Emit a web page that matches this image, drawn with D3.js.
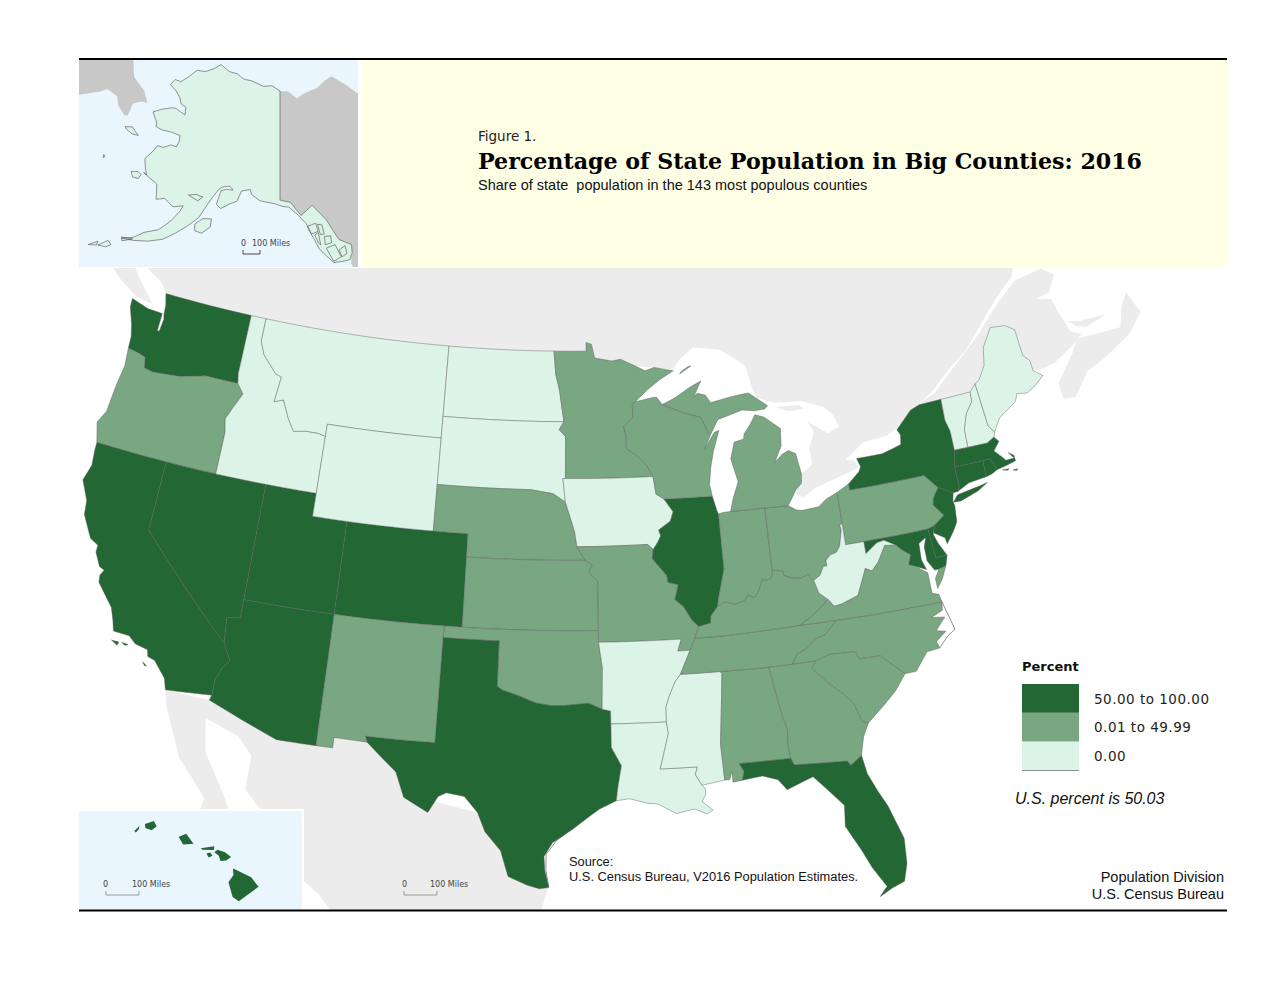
<!DOCTYPE html>
<html>
<head>
<meta charset="utf-8">
<script src="https://cdn.jsdelivr.net/npm/d3@7"></script>
<style>
  html, body { margin: 0; padding: 0; background: #fff; }
  svg { display: block; }
</style>
</head>
<body>
<div id="viz"></div>
<script>
const WIDTH = 1280, HEIGHT = 989;
const COLORS = { high: "#236734", mid: "#78a781", low: "#dcf3e8", land: "#ececec", akLand: "#c8c8c8",
  inset: "#eaf6fe", band: "#ffffe6", line: "#5f5f5f" };

// value classes
const highStates = ["WA","CA","NV","UT","AZ","CO","TX","FL","IL","NY","MA","CT","RI","NJ","DE","MD","HI"];
const midStates = ["OR","NM","NE","KS","OK","MN","WI","MI","MO","IN","OH","PA","VA","NC","SC","GA","AL","TN","KY"];
const lowStates = ["ID","MT","WY","ND","SD","IA","AR","LA","MS","WV","ME","NH","VT","AK"];
const legendLabels = ["50.00 to 100.00", "0.01 to 49.99", "0.00"];

// shared borders, lon/lat
const columbia = [[-116.92,46],[-118.98,46],[-119.3,45.93],[-120.5,45.7],[-121.2,45.65],[-122.2,45.57],[-122.76,45.65],[-122.9,46.1],[-123.4,46.2],[-124.05,46.27]];
const snake = [[-117.03,43.8],[-117.2,44.4],[-116.85,45],[-116.47,45.6],[-116.92,46]];
const idMt = [[-116.05,49],[-116.05,48],[-115.7,47.45],[-114.75,46.75],[-114.35,46.65],[-114.5,45.55],[-113.95,45.7],[-113.45,44.95],[-113,44.45],[-112.3,44.55],[-111.5,44.55],[-111.05,44.47]];
const colorado = [[-114.63,35],[-114.14,34.3],[-114.45,34],[-114.72,33.4],[-114.72,32.72]];
const redRiver = [[-94.48,33.64],[-95.2,33.9],[-96.5,33.8],[-97.2,33.8],[-97.95,33.9],[-98.9,34.2],[-99.7,34.4],[-100,34.56]];
const missouriNe = [[-96.45,42.49],[-96.1,41.7],[-95.9,41.2],[-95.77,40.58]];
const mnDakota = [[-97.23,49],[-97.1,48],[-96.85,47.3],[-96.56,45.94]];
const sdMn = [[-96.56,45.94],[-96.85,45.6],[-96.45,45.3],[-96.45,43.5]];
const mnWi = [[-92.1,46.75],[-92.29,46.66],[-92.29,46.08],[-92.87,45.7],[-92.75,45.3],[-92.75,44.75]];
const missMnWi = [[-92.75,44.75],[-92.1,44.4],[-91.6,44.03],[-91.22,43.5]];
const missIaWi = [[-91.22,43.5],[-91.1,42.75],[-90.64,42.51]];
const missIaIl = [[-90.64,42.51],[-90.15,41.95],[-90.35,41.55],[-91.05,41.2],[-90.95,40.95],[-91.12,40.7],[-91.42,40.38]];
const missMoIl = [[-91.42,40.38],[-91.5,40],[-90.73,39.25],[-90.68,38.95],[-90.12,38.83],[-90.2,38.6],[-90.35,38.2],[-89.9,37.88],[-89.5,37.3],[-89.15,37]];
const missArTn = [[-89.7,36],[-90.3,35]];
const missArMs = [[-90.3,35],[-90.6,34.7],[-90.95,34.1],[-91.15,33.65],[-91.17,33]];
const missLaMs = [[-91.17,33],[-91.1,32.5],[-91.4,31.6],[-91.6,31]];
const ohioWv = [[-80.52,40.64],[-80.67,40.58],[-80.63,40.4],[-80.73,40.08],[-80.87,39.7],[-81.1,39.46],[-81.45,39.4],[-81.75,39.2],[-81.75,38.95],[-81.95,38.95],[-82.2,38.6],[-82.59,38.42]];
const ohioKyOh = [[-82.59,38.42],[-82.85,38.72],[-83.3,38.6],[-83.67,38.63],[-84.2,38.8],[-84.23,38.99],[-84.82,39.1]];
const ohioKyIn = [[-84.82,39.1],[-84.89,38.78],[-85.17,38.69],[-85.43,38.73],[-85.68,38.3],[-85.95,38],[-86.3,38.15],[-86.52,37.93],[-87.1,37.8],[-87.6,37.95],[-88.03,37.8]];
const ohioKyIl = [[-88.03,37.8],[-88.45,37.4],[-88.5,37.1],[-89.15,37]];
const wabash = [[-88.03,37.8],[-87.95,38.1],[-87.5,39.35],[-87.53,41.71]];
const kyVa = [[-83.68,36.6],[-83.1,36.85],[-82.3,37.3],[-81.97,37.54]];
const kyWv = [[-81.97,37.54],[-82.4,37.85],[-82.59,38.42]];
const tnNc = [[-81.68,36.59],[-82.4,36.05],[-82.9,35.95],[-83.5,35.57],[-84.03,35.4],[-84.32,34.99]];
const vaWv = [[-81.97,37.54],[-81.68,37.2],[-81.25,37.25],[-80.3,37.5],[-79.65,38.58],[-79.3,38.42],[-78.87,38.77],[-78.35,39.4],[-77.72,39.32]];
const potomac = [[-76.95,38.3],[-77.25,38.4],[-77.04,38.8],[-77.5,39.1],[-77.72,39.32]];
const ncSc = [[-83.11,35],[-82.3,35.2],[-81.05,35.15],[-80.9,35.1],[-80.8,34.82],[-79.67,34.8],[-78.55,33.86]];
const savannah = [[-83.11,35],[-83.35,34.7],[-82.6,34],[-81.9,33.45],[-81.45,33],[-81.15,32.15],[-80.85,32.05]];
const gaAl = [[-85.6,34.98],[-85.18,32.87],[-85,32.3],[-85.05,31.55],[-85,31]];
const wiUp = [[-90.42,46.57],[-89.1,46.14],[-88.1,45.9],[-87.8,45.35],[-87.6,45.1]];
const delaware = [[-74.7,41.36],[-75.1,40.95],[-75.2,40.68],[-74.72,40.15],[-75.4,39.8]];
const ctRiverVtNh = [[-71.5,45.01],[-71.55,44.6],[-72.05,44.15],[-72.4,43.5],[-72.46,42.73]];
const rev = a => a.slice().reverse();

const stateRings = {
  WA: [[[-124.73,48.38],[-123.6,48.15],[-122.62,48.12],[-122.62,47.35],[-122.5,47.35],[-122.42,47.9],[-122.5,48.1],[-122.55,48.5],[-122.75,49],[-121,49],[-119,49],[-117.03,49],[-117.03,46.42],...columbia,[-124.1,46.8],[-124.3,47.3],[-124.7,48]]],
  OR: [[[-124.05,46.27],...rev(columbia),...rev(snake),[-117.03,42],[-119,42],[-121,42],[-124.21,42],[-124.55,42.84],[-124.2,43.4],[-124.1,44.6],[-123.95,45.5]]],
  CA: [[[-124.21,42],[-120,42],[-120,39],...colorado,[-117.12,32.53],[-117.3,33],[-118,33.65],[-118.4,33.75],[-118.5,34.03],[-119.2,34.15],[-119.6,34.42],[-120.47,34.45],[-120.65,34.9],[-120.9,35.4],[-121.9,36.3],[-121.95,36.6],[-121.8,36.85],[-122.1,36.95],[-122.5,37.5],[-122.5,37.8],[-123,38],[-123.7,38.9],[-123.8,39.5],[-124.35,40.3],[-124.1,41],[-124.2,41.7]],
      [[-119.9,34.07],[-119.55,34.05],[-119.7,33.97]],[[-118.6,33.48],[-118.35,33.35],[-118.45,33.33]],[[-120.45,34.05],[-120.05,34.05],[-120.1,33.9]]],
  NV: [[[-120,42],[-114.04,42],[-114.04,36.2],[-114.75,36.1],[-114.63,35],[-120,39]]],
  AZ: [[[-114.04,37],[-109.05,37],[-109.05,31.33],[-111.07,31.33],[-114.81,32.5],[-114.72,32.72],...rev(colorado),[-114.75,36.1],[-114.04,36.2]]],
  UT: [[[-114.04,42],[-111.05,42],[-111.05,41],[-109.05,41],[-109.05,37],[-114.04,37]]],
  CO: [[[-109.05,41],[-102.05,41],[-102.04,37],[-109.05,37]]],
  ID: [[[-117.03,49],...idMt,[-111.05,42],[-117.03,42],...snake,[-117.03,46.42]]],
  MT: [[...idMt,[-111.05,45],[-104.05,45],[-104.05,49]]],
  WY: [[[-111.05,45],[-104.05,45],[-104.05,41],[-111.05,41]]],
  ND: [[[-104.05,49],...mnDakota,[-104.05,45.94]]],
  SD: [[[-104.05,45.94],...sdMn,[-96.6,43.5],[-96.45,42.49],[-97.2,42.85],[-98.5,43],[-104.05,43]]],
  NE: [[[-104.05,43],[-98.5,43],[-97.2,42.85],...missouriNe,[-95.31,40],[-102.05,40],[-102.05,41],[-104.05,41]]],
  KS: [[[-102.05,40],[-95.31,40],[-94.9,39.8],[-95.1,39.5],[-94.61,39.1],[-94.62,37],[-102.04,37]]],
  OK: [[[-103,37],[-94.62,37],[-94.62,36.5],[-94.43,35.4],...redRiver,[-100,36.5],[-103.04,36.5]]],
  TX: [[[-103.04,36.5],[-100,36.5],...rev(redRiver),[-94.04,33.55],[-94.04,33],[-94.04,31.99],[-93.55,31.2],[-93.75,30.3],[-93.85,29.7],[-94.7,29.35],[-95.1,29.1],[-96,28.5],[-97,27.9],[-97.4,27.3],[-97.35,26.7],[-97.15,25.96],[-97.6,25.9],[-98.2,26.05],[-99.1,26.4],[-99.5,27.5],[-100.3,28.3],[-100.7,29.1],[-101.4,29.77],[-102.3,29.88],[-102.7,29.7],[-103.15,28.98],[-104.4,29.55],[-104.9,30.6],[-106.5,31.75],[-106.62,32],[-103.06,32]]],
  NM: [[[-109.05,37],[-103,37],[-103.04,36.5],[-103.06,32],[-106.62,32],[-106.5,31.75],[-108.2,31.78],[-108.2,31.33],[-109.05,31.33]]],
  MN: [[[-97.23,49],[-95.15,49],[-95.15,49.38],[-94.8,49.3],[-94.6,48.7],[-93.5,48.55],[-92.95,48.62],[-92,48.3],[-91.4,48.07],[-90.8,48.2],[-89.6,48],[-90.5,47.65],[-91.3,47.25],...mnWi,...missMnWi,...rev(sdMn),...rev(mnDakota)]],
  IA: [[[-96.45,43.5],...missIaWi,...missIaIl,[-91.73,40.61],[-95.77,40.58],...rev(missouriNe),[-96.6,43.5]]],
  MO: [[[-95.77,40.58],[-91.73,40.61],...missMoIl,[-89.4,36.5],[-89.7,36],[-90.37,36],[-90.15,36.5],[-94.62,36.5],[-94.62,37],[-94.61,39.1],[-95.1,39.5],[-94.9,39.8],[-95.31,40]]],
  AR: [[[-94.62,36.5],[-90.15,36.5],[-90.37,36],...missArTn,...missArMs,[-94.04,33],[-94.04,33.55],[-94.48,33.64],[-94.43,35.4]]],
  LA: [[[-94.04,33],...missLaMs,[-89.73,31],[-89.85,30.67],[-89.55,30.2],[-89.4,30.05],[-89.4,29.8],[-89.6,29.5],[-89.1,29.1],[-89.4,28.95],[-90,29.2],[-90.9,29.05],[-91.8,29.5],[-92.3,29.55],[-93.2,29.77],[-93.85,29.7],[-93.75,30.3],[-93.55,31.2],[-94.04,31.99]]],
  MS: [[...missArMs,...missLaMs.slice(1),[-89.73,31],[-89.85,30.67],[-89.55,30.2],[-88.4,30.35],[-88.47,31.9],[-88.1,34.9],[-88.2,35]]],
  AL: [[[-88.2,35],...gaAl,[-87.6,31],[-87.4,30.65],[-87.52,30.28],[-88,30.23],[-88,30.7],[-88.15,30.35],[-88.4,30.35],[-88.47,31.9],[-88.1,34.9]]],
  TN: [[[-89.7,36],[-89.4,36.5],[-88.07,36.5],[-83.68,36.6],...tnNc,[-85.6,34.98],[-88.2,35],[-90.3,35]]],
  KY: [[[-89.4,36.5],[-88.07,36.5],...kyVa,...kyWv,...ohioKyOh,...ohioKyIn,...ohioKyIl]],
  IL: [[[-87.8,42.49],[-90.64,42.51],...missIaIl.slice(1),...missMoIl.slice(1),...rev(ohioKyIl),...wabash,[-87.6,41.85]]],
  IN: [[[-87.53,41.71],[-87.2,41.76],[-86.82,41.76],[-84.81,41.76],...ohioKyIn,...wabash.slice(1,3)]],
  OH: [[[-84.81,41.76],[-83.45,41.73],[-83,41.5],[-82.7,41.45],[-81.7,41.5],[-81.2,41.78],[-80.52,41.98],...ohioWv,...ohioKyOh]],
  MI: [[[-86.82,41.76],[-84.81,41.76],[-83.45,41.73],[-83.15,42.05],[-82.9,42.35],[-82.5,42.6],[-82.42,43],[-82.6,43.9],[-83,44.07],[-83.4,43.95],[-83.9,43.65],[-83.4,44.3],[-83.3,45.05],[-84.2,45.63],[-84.75,45.78],[-85.1,45.4],[-85.55,45],[-85.6,44.8],[-86.2,44.7],[-86.5,44],[-86.2,43],[-86.6,42.3]],
      [...wiUp,[-87.05,45.75],[-86.5,45.85],[-85.5,46.05],[-84.75,45.95],[-84.1,45.98],[-83.9,46.1],[-84.5,46.46],[-85,46.75],[-86.1,46.67],[-87.4,46.5],[-87.7,46.85],[-88.2,46.95],[-88.45,46.78],[-87.9,47.47],[-88.6,47.25],[-89.6,46.83]],
      [[-89.2,47.85],[-88.45,48.15],[-88.6,48.15],[-89.1,47.95]]],
  WI: [[[-92.1,46.75],[-91,46.9],[-90.75,46.9],...wiUp,[-88,44.55],[-87.35,45.2],[-87.05,45.28],[-87.5,44.4],[-87.75,43.7],[-87.9,43],[-87.8,42.49],[-90.64,42.51],...rev(missIaWi).slice(1),...rev(missMnWi).slice(1),...rev(mnWi).slice(1)]],
  PA: [[[-80.52,41.98],[-79.76,42.27],[-79.76,42],[-75.35,42],...delaware,[-75.79,39.72],[-80.52,39.72],[-80.52,40.64]]],
  NY: [[[-79.76,42.27],[-79.05,42.7],[-78.9,42.9],[-79.05,43.27],[-77.5,43.27],[-76.3,43.5],[-76.2,43.9],[-76.35,44.15],[-75.3,44.85],[-74.7,45],[-73.34,45.01],[-73.4,44.1],[-73.25,43.6],[-73.27,42.75],[-73.5,42.05],[-73.49,41.2],[-73.65,41],[-73.92,41],[-74.7,41.36],[-75.35,42],[-79.76,42]],
      [[-74.03,40.6],[-73.6,40.58],[-72.5,40.82],[-71.87,41.07],[-72.4,41],[-72.65,40.98],[-73.7,40.87]]],
  VT: [[[-73.34,45.01],...ctRiverVtNh,[-73.27,42.75],[-73.25,43.6],[-73.4,44.1]]],
  NH: [[[-71.5,45.01],[-71.08,45.3],[-70.98,43.4],[-70.7,43.07],[-70.82,42.87],[-71.3,42.7],...rev(ctRiverVtNh)]],
  ME: [[[-71.08,45.3],[-70.8,45.4],[-70.25,45.95],[-70,46.7],[-69.23,47.46],[-68.3,47.36],[-67.79,47.07],[-67.78,45.9],[-67.45,45.6],[-67.45,45.15],[-66.97,44.82],[-67.6,44.5],[-68.2,44.3],[-68.8,44.4],[-69,44.1],[-69.6,43.85],[-70.2,43.6],[-70.7,43.07],[-70.98,43.4]]],
  MA: [[[-73.5,42.05],[-73.27,42.75],[-72.46,42.73],[-71.3,42.7],[-70.82,42.87],[-70.6,42.65],[-71.03,42.3],[-70.65,41.95],[-70.5,41.78],[-70,41.78],[-70.25,42.07],[-69.97,41.9],[-69.97,41.65],[-70.65,41.55],[-71.12,41.5],[-71.38,42.02],[-71.8,42.02]],
      [[-70.85,41.42],[-70.45,41.4],[-70.55,41.35]],[[-70.25,41.3],[-69.97,41.3],[-70.05,41.24]]],
  CT: [[[-73.5,42.05],[-71.8,42.02],[-71.85,41.32],[-72.9,41.25],[-73.65,41],[-73.49,41.2]]],
  RI: [[[-71.8,42.02],[-71.38,42.02],[-71.12,41.5],[-71.5,41.37],[-71.85,41.32]]],
  NJ: [[[-74.7,41.36],[-73.92,41],[-74.05,40.65],[-74,40.45],[-74.1,39.75],[-74.4,39.4],[-74.9,38.93],[-74.95,39.2],[-75.5,39.5],...rev(delaware).slice(0,4)]],
  DE: [[[-75.79,39.72],[-75.4,39.8],[-75.55,39.45],[-75.4,39.05],[-75.05,38.45],[-75.7,38.46]]],
  MD: [[[-79.48,39.72],[-75.79,39.72],[-75.7,38.46],[-75.05,38.45],[-75.24,38.03],[-75.65,37.95],[-75.9,37.95],[-76.2,38.4],[-76.2,39],[-76,39.4],[-76.45,39.2],[-76.5,38.5],[-76.33,38.05],...potomac,[-78.35,39.62],[-78.75,39.58],[-79.48,39.2]]],
  WV: [[[-80.52,39.72],[-79.48,39.72],[-79.48,39.2],[-78.75,39.58],[-78.35,39.62],[-77.72,39.32],...rev(vaWv).slice(1),...kyWv.slice(1),...rev(ohioWv).slice(1)]],
  VA: [[[-83.68,36.6],[-81.68,36.59],[-75.87,36.55],[-75.95,36.9],[-76.3,37],[-76.3,37.5],[-76.3,37.9],...potomac,...rev(vaWv).slice(1),...rev(kyVa).slice(1)],
      [[-75.65,37.95],[-75.24,38.03],[-75.6,37.5],[-75.95,37.15],[-75.95,37.6]]],
  NC: [[...rev(tnNc),[-81.68,36.59],[-75.87,36.55],[-75.95,36.2],[-76.6,36],[-75.9,35.9],[-76.5,35.4],[-76,35.3],[-76.6,34.95],[-76.5,34.65],[-77.2,34.6],[-77.95,33.87],...rev(ncSc)]],
  SC: [[...ncSc,[-79.2,33.2],[-79.9,32.7],...rev(savannah)]],
  GA: [[[-85.6,34.98],[-84.32,34.99],...savannah,[-81.2,31.5],[-81.45,30.72],[-82.05,30.36],[-82.2,30.57],[-84.86,30.7],[-85,31],...rev(gaAl).slice(1)]],
  FL: [[[-87.6,31],[-85,31],[-84.86,30.7],[-82.2,30.57],[-82.05,30.36],[-81.45,30.72],[-81.3,29.9],[-80.9,29.05],[-80.55,28.4],[-80.03,26.9],[-80.1,25.8],[-80.35,25.05],[-80.95,24.85],[-81.6,24.55],[-81.2,24.95],[-81.75,25.85],[-82.15,26.7],[-82.75,27.8],[-82.65,28.7],[-83.4,29.5],[-84,30.1],[-84.35,30],[-85.35,29.68],[-85.75,30.15],[-86.5,30.38],[-87.52,30.28],[-87.4,30.65]]]
};

const barrierLines = [
  [[-75.87,36.55],[-75.5,35.3],[-76,35.05],[-76.5,34.65]],
  [[-97.15,26],[-97.3,26.7],[-97.3,27.4],[-96.8,28],[-95.9,28.6]]
];

// neighbours, drawn under the states
const canadaMain = [[-122.75,49],[-123.2,49.4],[-124.8,50],[-127,51],[-127.8,52],[-129,53.5],[-130.5,54.5],[-130,58],[-110,62],[-80,62],[-64,56],[-66,52],[-66.2,50.25],[-67,49.3],[-68.1,48.75],[-69,48.2],[-69.9,47.6],[-71.1,46.8],[-72.5,46.15],[-73.7,45.45],[-74.7,45.03],[-75.8,44.45],[-76.4,44.2],[-77,44],[-78.5,43.9],[-79.7,43.3],[-79.2,43.2],[-79,42.87],[-80.4,42.6],[-81.8,42.3],[-82.5,42],[-83.1,42.25],[-82.5,42.6],[-82.42,43],[-81.7,43.35],[-81.75,44.05],[-81.3,44.7],[-81.6,45.2],[-81.2,44.95],[-80.5,44.55],[-79.75,44.75],[-80,45.3],[-80.5,45.7],[-81.8,46.1],[-83.5,46.2],[-84.5,46.5],[-84.7,46.9],[-85,47.95],[-86.5,48.75],[-88.2,48.95],[-89.2,48.45],[-89.6,48.05],[-92,48.3],[-94.6,48.7],[-95.15,49],[-110,49]];
const canadaSouth = [[-75,44.95],[-73.6,45.35],[-72.5,46],[-71.3,46.65],[-70,47.35],[-69,48],[-68.2,48.45],[-66.9,49.1],[-65,49.25],[-64.3,48.8],[-65,48.15],[-65.9,48.05],[-65,47.85],[-64.8,47.1],[-64.5,46.25],[-63.9,46],[-64.8,45.6],[-66,45.2],[-67.1,45.1],[-69,45.5],[-71,45]];
const novaScotia = [[-66.2,43.6],[-65.5,43.5],[-64.3,44.4],[-63,44.7],[-61.1,45.3],[-60,46],[-60.4,47],[-61,46.5],[-61.5,45.7],[-62.5,45.75],[-63.8,45.85],[-64.3,45.85],[-64.8,45.35],[-65.8,44.6],[-66.2,44.3]];
const princeEdward = [[-64.4,46.7],[-63.8,46.55],[-62.2,46.45],[-62,46.45],[-63.5,46.2],[-64.1,46.4]];
const vancouverIsland = [[-123.4,48.4],[-124.5,48.5],[-125.8,49],[-127.9,50.1],[-128.3,50.8],[-127.2,50.7],[-125.5,50],[-124.8,49.4]];
const manitoulin = [[-83.4,46],[-82,45.95],[-81.7,45.75],[-82.7,45.75]];
const mexicoLand = [[-117.12,32.53],[-116.9,31.9],[-116.1,30.5],[-115.7,29.8],[-114.7,28.9],[-114.1,28.3],[-114.2,27.8],[-113.1,26.9],[-112,26],[-111,24.5],[-110,23],[-110,24.2],[-110.6,25],[-111.3,26],[-112.2,27.2],[-112.8,28],[-113.5,29],[-114.5,30.3],[-114.8,31.7],[-113,31.2],[-112.2,30.5],[-112.2,29],[-111,28],[-110,27],[-109.3,25.8],[-108,25],[-106,23],[-105,20],[-100,16],[-95,15],[-95,18.5],[-97.3,20.5],[-97.8,22.5],[-97.5,25],[-97.15,25.96],[-100,29],[-103,29.5],[-106.5,31.8],[-114.8,32.5]];

// Alaska inset
const alaskaMain = [[-141,69.65],[-143,70.1],[-145,70],[-148,70.4],[-150,70.45],[-152,70.85],[-154,70.9],[-156.5,71.35],[-158,70.85],[-160,70.4],[-162,70.3],[-163.5,69.5],[-164.8,68.9],[-166.2,68.9],[-166.8,68.35],[-165,68],[-163.8,67.6],[-163,67.1],[-161.8,66.95],[-161.5,66.3],[-163.7,66.6],[-164.5,66.55],[-166.5,66.1],[-168,65.6],[-166.5,64.9],[-166.3,64.55],[-165,64.45],[-163,64.55],[-161.2,64.5],[-161,64],[-161.2,63.5],[-162.3,63.5],[-163.5,63.1],[-164.7,63.05],[-165,62.6],[-166,61.65],[-165.3,60.9],[-164.7,60.4],[-165.3,60.5],[-162.5,59.95],[-162,59.1],[-161.8,58.7],[-160.5,59],[-158.8,58.5],[-157.2,58.8],[-157.5,58.3],[-158.5,57.3],[-160,56.3],[-162,55.7],[-163.3,55],[-164.9,54.6],[-163.2,54.75],[-161,55.1],[-159,55.6],[-157.5,56.3],[-156,57.1],[-154.3,58.1],[-153.5,59.1],[-152.6,60.1],[-151.8,60.8],[-151.2,61.05],[-150,61.2],[-149.3,60.9],[-150.5,60.9],[-151.4,60.7],[-151.8,59.5],[-151,59.2],[-149.6,59.7],[-148.4,60],[-147.8,60.9],[-146.3,61.1],[-146,60.7],[-144.5,60.2],[-142,60],[-140.5,59.75],[-139.5,59.7],[-138,59],[-136.7,58.2],[-136.4,57.7],[-135.6,56.8],[-135,56],[-133.8,55.2],[-133,54.7],[-131.5,54.7],[-130.6,54.75],[-130.1,55.3],[-130,56],[-131.8,56.6],[-133.4,58.4],[-135.5,59.75],[-137.5,58.95],[-139.2,60.1],[-141,60.3]];
const alaskaIslands = [
  [[-154.7,57.5],[-153.6,58.1],[-152.2,58.2],[-152.2,57.5],[-153.4,56.85],[-154.5,56.95]],
  [[-167.4,60.2],[-166.3,60.4],[-165.6,60.25],[-165.8,59.85],[-166.8,59.8]],
  [[-171.8,63.45],[-170.5,63.7],[-168.8,63.25],[-170,63.15],[-171.3,63.3]],
  [[-172.95,60.5],[-172.6,60.4],[-172.8,60.25]],
  [[-164.95,54.7],[-163.3,54.85],[-164.7,54.4]],
  [[-167.7,53.3],[-166.6,54],[-166,53.75],[-166.6,53.4]],
  [[-169,53],[-167.9,53.6],[-167.9,53.25]]
];
// panhandle islands only show as outlines on the same fill
const alaskaPanhandle = [
  [[-136.5,58],[-135.2,58.2],[-134.9,57.5],[-136,57.3]],
  [[-135.5,57.2],[-134.9,57.4],[-134.7,56.3],[-135,56.5]],
  [[-134.9,58.1],[-134.2,58],[-134,57.2],[-134.6,57.2]],
  [[-134,57],[-133,57],[-133,56.4],[-134,56.3]],
  [[-133.9,56],[-132.5,56.2],[-131.8,55.1],[-133,54.8]],
  [[-132,55.7],[-131,56],[-130.9,55.3],[-131.7,55.1]],
  [[-156.8,59.8],[-155,59.5],[-154.3,59.9],[-155.5,60]]
];
const akCanada = [[-141,69.65],[-139,69.6],[-137,68.95],[-135.5,69.3],[-134,69.5],[-132,69.7],[-130,70.2],[-128,70.5],[-125,69.5],[-115,65],[-115,50],[-128,50],[-130.5,54.4],[-130,56],[-131.8,56.6],[-133.4,58.4],[-135.5,59.75],[-137.5,58.95],[-139.2,60.1],[-141,60.3]];
const akRussia = [[-200,72],[-180,70],[-178,69.4],[-175,67.6],[-171.5,66.9],[-169.8,66.1],[-171,66],[-172.5,65.5],[-172.3,64.4],[-173,64.3],[-175,64.8],[-176,65.4],[-178.5,65.5],[-179.5,65],[-182,64],[-190,60],[-200,60]];

// Hawaii inset
const hawaiiIslands = [
  [[-160.27,21.82],[-160.05,22.02],[-160.06,21.9],[-160.2,21.76]],
  [[-159.8,22.12],[-159.4,22.25],[-159.28,22.02],[-159.5,21.86],[-159.78,21.95]],
  [[-158.3,21.58],[-157.97,21.72],[-157.64,21.3],[-158.1,21.27]],
  [[-157.32,21.12],[-156.72,21.2],[-156.74,21.04],[-157.25,21.05]],
  [[-157.07,20.9],[-156.9,20.94],[-156.8,20.8],[-156.97,20.73]],
  [[-156.72,20.95],[-156.58,21.05],[-156.25,20.95],[-155.98,20.75],[-156.2,20.6],[-156.45,20.58],[-156.52,20.8]],
  [[-155.9,20.27],[-155.75,20.2],[-155.1,19.9],[-154.78,19.5],[-155.65,18.9],[-155.92,19.08],[-156.1,19.7],[-155.88,20]]
];

const allRings = rings => ({ type: "MultiPolygon", coordinates: rings.map(r => [closeRing(r)]) });

// long edges follow the lon/lat grid, so parallels keep their curve
function closeRing(r) {
  const pts = r.concat([r[0]]), out = [];
  pts.forEach((p, i) => {
    if (i > 0) {
      const q = pts[i - 1];
      const n = Math.ceil(Math.max(Math.abs(p[0] - q[0]), Math.abs(p[1] - q[1])));
      for (let k = 1; k < n; k++) out.push([q[0] + (p[0] - q[0]) * k / n, q[1] + (p[1] - q[1]) * k / n]);
    }
    out.push(p);
  });
  return d3.geoArea({ type: "Polygon", coordinates: [out] }) > 2 * Math.PI ? out.reverse() : out;
}

const fillOf = id => highStates.includes(id) ? COLORS.high : midStates.includes(id) ? COLORS.mid : COLORS.low;

const svg = d3.select("#viz").append("svg").attr("width", WIDTH).attr("height", HEIGHT)
  .attr("viewBox", `0 0 ${WIDTH} ${HEIGHT}`);
svg.append("rect").attr("width", WIDTH).attr("height", HEIGHT).attr("fill", "#fff");

const defs = svg.append("defs");
function clipRect(id, x, y, w, h) {
  defs.append("clipPath").attr("id", id).append("rect").attr("x", x).attr("y", y).attr("width", w).attr("height", h);
}
clipRect("mapClip", 79, 268, 1148, 642);
clipRect("akClip", 79, 60, 279, 207);
clipRect("hiClip", 79, 811, 223, 98);

// main map
const projection = d3.geoAlbers().rotate([96, 0]).center([0, 37.5]).parallels([29.5, 45.5])
  .scale(1330).translate([573, 619]);
const path = d3.geoPath(projection);
const mapG = svg.append("g").attr("clip-path", "url(#mapClip)");
mapG.selectAll("path.land")
  .data([canadaMain, canadaSouth, novaScotia, princeEdward, vancouverIsland, manitoulin, mexicoLand])
  .join("path").attr("class", "land")
  .attr("d", d => path({ type: "Polygon", coordinates: [closeRing(d)] }))
  .attr("fill", COLORS.land);

mapG.selectAll("path.state")
  .data(Object.keys(stateRings))
  .join("path").attr("class", "state")
  .attr("d", id => path(allRings(stateRings[id])))
  .attr("fill", fillOf)
  .attr("stroke", COLORS.line).attr("stroke-width", 0.45).attr("stroke-linejoin", "round");

mapG.selectAll("path.barrier")
  .data(barrierLines)
  .join("path").attr("class", "barrier")
  .attr("d", d => path({ type: "LineString", coordinates: d }))
  .attr("fill", "none").attr("stroke", COLORS.line).attr("stroke-width", 0.7);

// header band
svg.append("rect").attr("x", 361).attr("y", 60).attr("width", 866).attr("height", 207).attr("fill", COLORS.band);

// Alaska inset
svg.append("rect").attr("x", 79).attr("y", 60).attr("width", 279).attr("height", 207).attr("fill", COLORS.inset);
const akProjection = d3.geoAlbers().rotate([141, 0]).center([0, 65]).parallels([55, 65]).scale(670).translate([280, 145]);
const akPath = d3.geoPath(akProjection);
const akG = svg.append("g").attr("clip-path", "url(#akClip)");
akG.selectAll("path.neighbour").data([akCanada, akRussia]).join("path").attr("class", "neighbour")
  .attr("d", d => akPath({ type: "Polygon", coordinates: [closeRing(d)] })).attr("fill", COLORS.akLand);
akG.append("path").attr("d", akPath(allRings([alaskaMain, ...alaskaIslands, ...alaskaPanhandle])))
  .attr("fill", fillOf("AK")).attr("stroke", "#4d4d4d").attr("stroke-width", 0.6);

// Hawaii inset
svg.append("rect").attr("x", 79).attr("y", 809).attr("width", 225).attr("height", 101).attr("fill", "#fff");
svg.append("rect").attr("x", 79).attr("y", 811).attr("width", 223).attr("height", 99).attr("fill", COLORS.inset);
const hiProjection = d3.geoAlbers().rotate([157, 0]).center([0, 20.5]).parallels([8, 18]).scale(1380).translate([208, 863]);
const hiPath = d3.geoPath(hiProjection);
svg.append("g").attr("clip-path", "url(#hiClip)").append("path")
  .attr("d", hiPath(allRings(hawaiiIslands))).attr("fill", fillOf("HI"));

// scale bars
const scaleBars = [
  { x: 243, y: 254, len: 17, font: 8, labels: [[241, "0"], [252, "100 Miles"]], color: "#222", ly: 246 },
  { x: 106, y: 895, len: 33, font: 8, labels: [[103, "0"], [132, "100 Miles"]], color: "#888", ly: 887 },
  { x: 404, y: 895, len: 33, font: 8, labels: [[402, "0"], [430, "100 Miles"]], color: "#888", ly: 887 }
];
scaleBars.forEach(b => {
  const line = d3.line();
  svg.append("path").attr("d", line([[b.x, b.y - 4], [b.x, b.y], [b.x + b.len, b.y], [b.x + b.len, b.y - 4]]))
    .attr("fill", "none").attr("stroke", b.color).attr("stroke-width", 0.8);
  b.labels.forEach(l => svg.append("text").attr("x", l[0]).attr("y", b.ly).text(l[1])
    .style("font", `${b.font}px 'DejaVu Sans'`).attr("fill", "#444"));
});

// rules
[59, 910.5].forEach(y => svg.append("rect").attr("x", 79).attr("y", y - 1).attr("width", 1148).attr("height", 2).attr("fill", "#000"));

// titles
svg.append("text").attr("x", 478).attr("y", 141).text("Figure 1.")
  .style("font", "13.5px 'DejaVu Sans'").attr("fill", "#222");
svg.append("text").attr("x", 478).attr("y", 169).text("Percentage of State Population in Big Counties: 2016")
  .attr("textLength", 664).attr("lengthAdjust", "spacingAndGlyphs")
  .style("font", "bold 23px 'DejaVu Serif'").attr("fill", "#000");
svg.append("text").attr("x", 478).attr("y", 190).attr("xml:space", "preserve").style("white-space", "pre")
  .text("Share of state  population in the 143 most populous counties")
  .style("font", "14.5px 'Liberation Sans'").attr("fill", "#111");

// legend
const legendScale = d3.scaleBand().domain(legendLabels).range([684, 770.5]);
const legendFill = d3.scaleOrdinal().domain(legendLabels).range([COLORS.high, COLORS.mid, COLORS.low]);
svg.append("text").attr("x", 1022).attr("y", 671).text("Percent")
  .style("font", "bold 13px 'DejaVu Sans'").attr("fill", "#111");
svg.selectAll("rect.legend").data(legendLabels).join("rect").attr("class", "legend")
  .attr("x", 1022).attr("y", d => legendScale(d)).attr("width", 57).attr("height", legendScale.bandwidth())
  .attr("fill", d => legendFill(d));
svg.append("rect").attr("x", 1022).attr("y", 770).attr("width", 57).attr("height", 0.8).attr("fill", "#777");
svg.selectAll("text.legend").data(legendLabels).join("text").attr("class", "legend")
  .attr("x", 1094).attr("y", d => legendScale(d) + 19.5).text(d => d)
  .style("font", "13.5px 'DejaVu Sans'").style("letter-spacing", "0.5px").attr("fill", "#222");
svg.append("text").attr("x", 1015).attr("y", 804).text("U.S. percent is 50.03")
  .style("font", "italic 16px 'Liberation Sans'").attr("fill", "#111");

// credits
svg.append("text").attr("x", 569).attr("y", 866).text("Source:").style("font", "12.85px 'Liberation Sans'").attr("fill", "#111");
svg.append("text").attr("x", 569).attr("y", 881).text("U.S. Census Bureau, V2016 Population Estimates.")
  .style("font", "12.85px 'Liberation Sans'").attr("fill", "#111");
svg.append("text").attr("x", 1224).attr("y", 882).attr("text-anchor", "end").text("Population Division")
  .style("font", "14.5px 'Liberation Sans'").attr("fill", "#111");
svg.append("text").attr("x", 1224).attr("y", 899).attr("text-anchor", "end").text("U.S. Census Bureau")
  .style("font", "14.5px 'Liberation Sans'").attr("fill", "#111");
</script>
</body>
</html>
